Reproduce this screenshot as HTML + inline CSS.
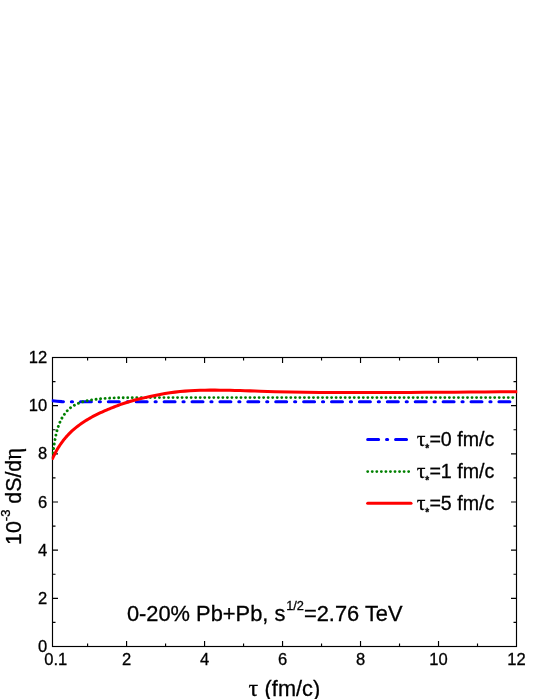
<!DOCTYPE html>
<html><head><meta charset="utf-8"><style>
html,body{margin:0;padding:0;background:#fff;}
body{width:540px;height:699px;overflow:hidden;position:relative;}
svg{position:absolute;left:0;top:0;will-change:transform;}
text{font-family:"Liberation Sans",sans-serif;fill:#000;stroke:#000;stroke-width:0.3px;}
.sy{font-family:"Liberation Serif",serif;}
</style></head><body>
<svg width="540" height="699" viewBox="0 0 540 699">
<rect x="0" y="0" width="540" height="699" fill="#fff"/>

<g stroke="#000" stroke-width="1.15" fill="none">
<rect x="52.50" y="357.50" width="464.00" height="289.00"/>
<path d="M87.59 646.50V643.50 M87.59 357.50V360.50"/>
<path d="M126.58 646.50V641.00 M126.58 357.50V363.00"/>
<path d="M165.58 646.50V643.50 M165.58 357.50V360.50"/>
<path d="M204.57 646.50V641.00 M204.57 357.50V363.00"/>
<path d="M243.56 646.50V643.50 M243.56 357.50V360.50"/>
<path d="M282.55 646.50V641.00 M282.55 357.50V363.00"/>
<path d="M321.54 646.50V643.50 M321.54 357.50V360.50"/>
<path d="M360.53 646.50V641.00 M360.53 357.50V363.00"/>
<path d="M399.53 646.50V643.50 M399.53 357.50V360.50"/>
<path d="M438.52 646.50V641.00 M438.52 357.50V363.00"/>
<path d="M477.51 646.50V643.50 M477.51 357.50V360.50"/>
<path d="M52.50 622.42H55.50 M516.50 622.42H513.50"/>
<path d="M52.50 598.33H58.00 M516.50 598.33H511.00"/>
<path d="M52.50 574.25H55.50 M516.50 574.25H513.50"/>
<path d="M52.50 550.17H58.00 M516.50 550.17H511.00"/>
<path d="M52.50 526.08H55.50 M516.50 526.08H513.50"/>
<path d="M52.50 502.00H58.00 M516.50 502.00H511.00"/>
<path d="M52.50 477.92H55.50 M516.50 477.92H513.50"/>
<path d="M52.50 453.83H58.00 M516.50 453.83H511.00"/>
<path d="M52.50 429.75H55.50 M516.50 429.75H513.50"/>
<path d="M52.50 405.67H58.00 M516.50 405.67H511.00"/>
<path d="M52.50 381.58H55.50 M516.50 381.58H513.50"/>
</g>
<clipPath id="c"><rect x="51.8" y="357.5" width="465.4" height="289.0"/></clipPath>
<g clip-path="url(#c)" fill="none" stroke-linejoin="round">
<path d="M52.60 400.80 L57.00 401.25 L62.00 401.65 L66.00 401.80 L80.00 401.80 L517.00 401.80" stroke="#00f" stroke-width="3.1" stroke-linecap="round" stroke-dasharray="10.9 7.95 1.1 7.95"/>
<path d="M52.50 457.50 L52.80 453.00 L53.50 448.90 L54.20 444.40 L54.95 440.00 L55.80 435.60 L56.80 431.30 L58.10 426.90 L59.70 422.65 L61.60 418.60 L64.00 414.80 L66.80 411.20 L70.30 407.85 L74.40 405.30 L78.60 403.20 L82.90 401.75 L87.50 400.65 L92.00 399.85 L96.40 399.20 L100.80 398.70 L105.60 398.30 L110.00 398.05 L114.40 397.90 L119.00 397.80 L123.60 397.70 L135.00 397.60 L516.70 397.60" stroke="#008000" stroke-width="2.9" stroke-linecap="round" stroke-dasharray="0.01 4.5205"/>
<path d="M52.50 458.51 L54.00 455.43 L55.50 452.54 L57.00 449.84 L58.50 447.33 L60.00 445.00 L61.50 442.83 L63.00 440.80 L64.50 438.91 L66.00 437.13 L67.50 435.46 L69.00 433.88 L70.50 432.39 L72.00 430.98 L73.50 429.64 L75.00 428.36 L76.50 427.14 L78.00 425.97 L79.50 424.85 L81.00 423.78 L82.50 422.75 L84.00 421.75 L85.50 420.79 L87.00 419.87 L88.50 418.97 L90.00 418.11 L91.50 417.27 L93.00 416.46 L94.50 415.67 L96.00 414.90 L97.50 414.16 L99.00 413.44 L100.50 412.73 L102.00 412.04 L103.50 411.37 L105.00 410.71 L106.50 410.06 L108.00 409.42 L109.50 408.79 L111.00 408.17 L112.50 407.56 L114.00 406.96 L115.50 406.38 L117.00 405.80 L118.50 405.24 L120.00 404.69 L125.00 402.98 L130.00 401.46 L135.00 400.08 L140.00 398.81 L145.00 397.63 L150.00 396.52 L155.00 395.47 L160.00 394.49 L165.00 393.60 L170.00 392.81 L175.00 392.13 L180.00 391.56 L185.00 391.12 L190.00 390.77 L195.00 390.51 L200.00 390.32 L205.00 390.20 L210.00 390.14 L215.00 390.12 L220.00 390.15 L225.00 390.21 L230.00 390.29 L235.00 390.41 L240.00 390.54 L245.00 390.69 L250.00 390.86 L255.00 391.03 L260.00 391.20 L275.00 391.68 L290.00 392.05 L305.00 392.30 L320.00 392.45 L335.00 392.53 L350.00 392.56 L365.00 392.55 L380.00 392.52 L395.00 392.48 L410.00 392.41 L425.00 392.34 L440.00 392.25 L455.00 392.15 L470.00 392.05 L485.00 391.94 L500.00 391.83 L515.00 391.72 L517.20 391.70" stroke="#f00" stroke-width="3.05" stroke-linecap="round"/>
</g>
<text transform="translate(47.20 652.05) scale(0.980 1.030)" font-size="16.90" text-anchor="end">0</text>
<text transform="translate(47.20 603.88) scale(0.980 1.030)" font-size="16.90" text-anchor="end">2</text>
<text transform="translate(47.20 555.72) scale(0.980 1.030)" font-size="16.90" text-anchor="end">4</text>
<text transform="translate(47.20 507.55) scale(0.980 1.030)" font-size="16.90" text-anchor="end">6</text>
<text transform="translate(47.20 459.38) scale(0.980 1.030)" font-size="16.90" text-anchor="end">8</text>
<text transform="translate(47.20 411.22) scale(0.980 1.030)" font-size="16.90" text-anchor="end">10</text>
<text transform="translate(47.20 363.05) scale(0.980 1.030)" font-size="16.90" text-anchor="end">12</text>
<text transform="translate(55.80 665.00) scale(0.980 1.030)" font-size="16.90" text-anchor="middle">0.1</text>
<text transform="translate(126.58 665.00) scale(0.980 1.030)" font-size="16.90" text-anchor="middle">2</text>
<text transform="translate(204.57 665.00) scale(0.980 1.030)" font-size="16.90" text-anchor="middle">4</text>
<text transform="translate(282.55 665.00) scale(0.980 1.030)" font-size="16.90" text-anchor="middle">6</text>
<text transform="translate(360.53 665.00) scale(0.980 1.030)" font-size="16.90" text-anchor="middle">8</text>
<text transform="translate(438.52 665.00) scale(0.980 1.030)" font-size="16.90" text-anchor="middle">10</text>
<text transform="translate(516.50 665.00) scale(0.980 1.030)" font-size="16.90" text-anchor="middle">12</text>
<text transform="translate(248.60 695.80) scale(1.000 1.000)" font-size="24.00" text-anchor="start" class="sy">τ</text>
<text transform="translate(264.60 695.80) scale(0.980 1.030)" font-size="22.20" text-anchor="start">(fm/c)</text>
<text transform="translate(21.30 544.90) rotate(-90) scale(0.980 1.030)" font-size="21.80" text-anchor="start">10<tspan font-size="13.2" dy="-10.5">-3</tspan><tspan dy="10.5"> dS/d</tspan><tspan class="sy" font-size="23.5">η</tspan></text>
<text transform="translate(416.70 446.40) scale(1.060 1.000)" font-size="20.50" text-anchor="start" class="sy">τ</text>
<text x="425.3" y="452.20" font-size="10" font-weight="bold">*</text>
<text transform="translate(429.40 446.40) scale(1.017 1.030)" font-size="19.30" text-anchor="start">=0 fm/c</text>
<text transform="translate(416.70 478.30) scale(1.060 1.000)" font-size="20.50" text-anchor="start" class="sy">τ</text>
<text x="425.3" y="484.10" font-size="10" font-weight="bold">*</text>
<text transform="translate(429.40 478.30) scale(1.017 1.030)" font-size="19.30" text-anchor="start">=1 fm/c</text>
<text transform="translate(416.70 510.10) scale(1.060 1.000)" font-size="20.50" text-anchor="start" class="sy">τ</text>
<text x="425.3" y="515.90" font-size="10" font-weight="bold">*</text>
<text transform="translate(429.40 510.10) scale(1.017 1.030)" font-size="19.30" text-anchor="start">=5 fm/c</text>
<g fill="none" stroke-linecap="round">
<path d="M367.7 439.5H408.3" stroke="#00f" stroke-width="3.1" stroke-dasharray="10.9 7.95 1.1 7.95"/>
<path d="M367.7 471.6H409" stroke="#008000" stroke-width="2.9" stroke-dasharray="0.01 4.54"/>
<path d="M367.7 503.2H411" stroke="#f00" stroke-width="3.05"/>
</g>
<text transform="translate(126.90 621.20) scale(0.980 1.030)" font-size="22.30" text-anchor="start">0-20% Pb+Pb, s<tspan font-size="13.1" dy="-11.3" dx="0.8">1/2</tspan><tspan dy="11.3">=2.76 TeV</tspan></text>
</svg></body></html>
